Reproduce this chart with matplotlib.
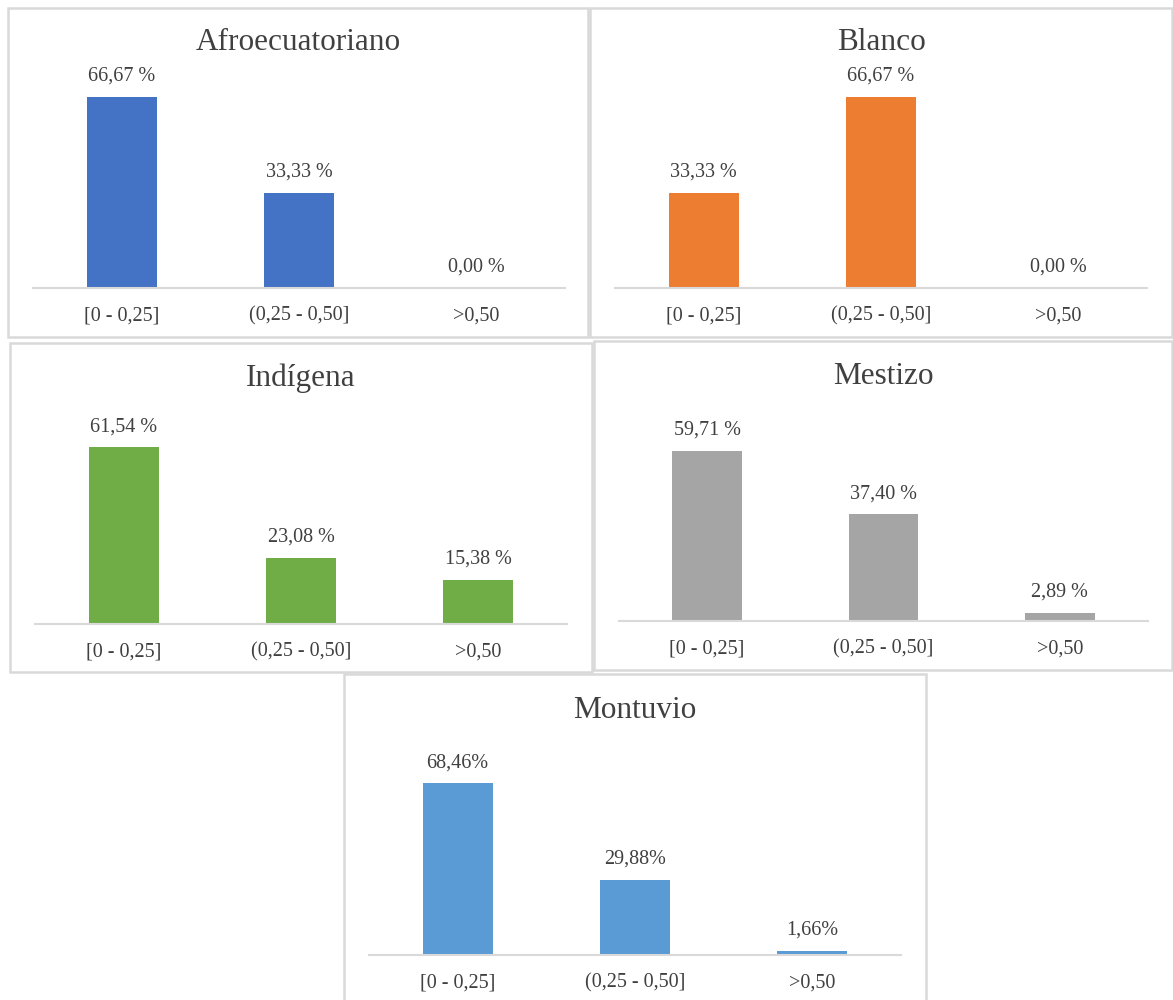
import matplotlib.pyplot as plt
from matplotlib.patches import Rectangle

plt.rcParams['font.family'] = ['Liberation Serif', 'DejaVu Serif']

# datos por grupo (porcentajes)
categorias = ['[0 - 0,25]', '(0,25 - 0,50]', '>0,50']
grupos = ['Afroecuatoriano', 'Blanco', 'Indígena', 'Mestizo', 'Montuvio']
afro = [66.67, 33.33, 0.00]
blanco = [33.33, 66.67, 0.00]
indigena = [61.54, 23.08, 15.38]
mestizo = [59.71, 37.40, 2.89]
montuvio = [68.46, 29.88, 1.66]
valores = [afro, blanco, indigena, mestizo, montuvio]
colores = ['#4472C4', '#ED7D31', '#70AD47', '#A5A5A5', '#5B9BD5']
separador = [' ', ' ', ' ', ' ', '']

W, H = 1173, 1000
# caja (x0, y0, x1, y1), eje x (izq, der), linea base, px por %, y del titulo
paneles = [
    ((8, 8, 588, 337), (33, 565), 288, 2.865, 43),
    ((590, 8, 1172, 337), (615, 1147), 288, 2.865, 43),
    ((10, 343, 592, 672), (35, 567), 624, 2.87, 378),
    ((594, 341, 1172, 670), (619, 1148), 621, 2.85, 376),
    ((344, 674, 926, 1012), (369, 901), 955, 2.51, 711),
]

texto = '#404040'
fig = plt.figure(figsize=(W / 100, H / 100), dpi=100)

for i, (caja, ejex, base, esc, yt) in enumerate(paneles):
    x0, y0, x1, y1 = caja
    fig.patches.append(Rectangle((x0 / W, 1 - y1 / H), (x1 - x0) / W, (y1 - y0) / H,
                                 transform=fig.transFigure, fill=False,
                                 edgecolor='#D9D9D9', linewidth=1.8))
    ymax = 80
    alto = ymax * esc
    ax = fig.add_axes([ejex[0] / W, 1 - base / H, (ejex[1] - ejex[0]) / W, alto / H])
    pos = range(len(categorias))
    ax.bar(pos, valores[i], width=0.395, color=colores[i])
    ax.set_xlim(-0.5, 2.5)
    ax.set_ylim(0, ymax)
    for p, v in zip(pos, valores[i]):
        etiqueta = f'{v:.2f}'.replace('.', ',') + separador[i] + '%'
        ax.annotate(etiqueta, (p, v), xytext=(0, 8), textcoords='offset points',
                    ha='center', va='bottom', fontsize=14.5, color=texto,
                    annotation_clip=False)
    ax.set_xticks(list(pos))
    ax.set_xticklabels(categorias, fontsize=14.5, color=texto)
    ax.tick_params(axis='x', length=0, pad=13)
    ax.set_yticks([])
    for s in ['top', 'right', 'left']:
        ax.spines[s].set_visible(False)
    ax.spines['bottom'].set_color('#D9D9D9')
    ax.spines['bottom'].set_linewidth(1.5)
    ax.patch.set_alpha(0)
    fig.text((x0 + x1) / 2 / W, 1 - yt / H, grupos[i], ha='center', va='center',
             fontsize=22.5, color=texto)

fig.savefig('out.png', dpi=100)
